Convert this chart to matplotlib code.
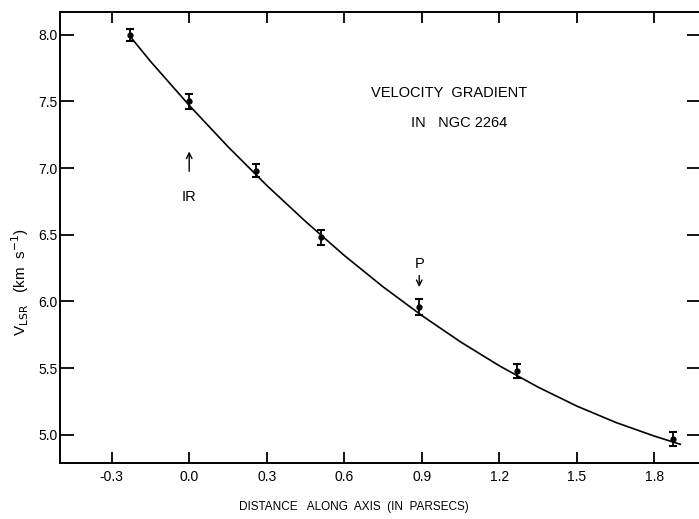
import numpy as np
import matplotlib
matplotlib.use("Agg")
import matplotlib.pyplot as plt

plt.rcParams['font.family'] = ['Liberation Sans', 'DejaVu Sans']

# measured points with error bars
dist = [-0.23, 0.0, 0.26, 0.51, 0.89, 1.27, 1.87]
vlsr = [8.00, 7.50, 6.98, 6.48, 5.96, 5.48, 4.97]
verr = [0.045, 0.055, 0.05, 0.055, 0.06, 0.05, 0.05]

# smooth curve
curve_x = [-0.23, -0.15, 0.0, 0.15, 0.30, 0.45, 0.60, 0.75, 0.90,
           1.05, 1.20, 1.35, 1.50, 1.65, 1.80, 1.90]
curve_y = [7.99, 7.80, 7.47, 7.16, 6.87, 6.60, 6.345, 6.11, 5.895,
           5.697, 5.518, 5.358, 5.216, 5.094, 4.991, 4.93]

xticks = [-0.3, 0.0, 0.3, 0.6, 0.9, 1.2, 1.5, 1.8]
xticklabels = ['-0.3', '0.0', '0.3', '0.6', '0.9', '1.2', '1.5', '1.8']
yticks = [5.0, 5.5, 6.0, 6.5, 7.0, 7.5, 8.0]

fig = plt.figure(figsize=(6.99, 5.19), dpi=100)
ax = fig.add_axes([0.0858, 0.108, 0.917, 0.869])

ax.plot(curve_x, curve_y, color='black', lw=1.2, solid_joinstyle='round')
ax.errorbar(dist, vlsr, yerr=verr, fmt='o', color='black', ms=3.5,
            capsize=2.6, elinewidth=1.3, capthick=1.5)

ax.set_xlim(-0.5, 1.98)
ax.set_ylim(4.79, 8.17)
ax.set_xticks(xticks)
ax.set_xticklabels(xticklabels)
ax.set_yticks(yticks)
ax.set_yticklabels(['%.1f' % v for v in yticks])

ax.tick_params(axis='x', direction='in', length=8, width=1.3, top=True,
               labelsize=10, pad=5)
ax.tick_params(axis='y', direction='in', length=10, width=1.3, right=True,
               labelsize=10, pad=2)
for s in ax.spines.values():
    s.set_linewidth(1.4)

ax.text(1.006, 7.565, 'VELOCITY  GRADIENT', ha='center', va='center', fontsize=10.5)
ax.text(1.045, 7.34, 'IN   NGC 2264', ha='center', va='center', fontsize=10.5)

ax.annotate('', xy=(0.0, 7.145), xytext=(0.0, 6.955),
            arrowprops=dict(arrowstyle='->', color='black', lw=1.0))
ax.text(0.0, 6.785, 'IR', ha='center', va='center', fontsize=10.5)

ax.annotate('', xy=(0.89, 6.087), xytext=(0.89, 6.215),
            arrowprops=dict(arrowstyle='->', color='black', lw=1.0))
ax.text(0.89, 6.28, 'P', ha='center', va='center', fontsize=10.5)

fig.text(20 / 699, 1 - 282 / 519, r'V$_{\rm LSR}$   (km  s$^{-1}$)',
         rotation=90, ha='center', va='center', fontsize=11)
fig.text(354 / 699, 1 - 507 / 519, 'DISTANCE   ALONG  AXIS  (IN  PARSECS)',
         ha='center', va='center', fontsize=8.5)

fig.savefig('out.png', dpi=100)
